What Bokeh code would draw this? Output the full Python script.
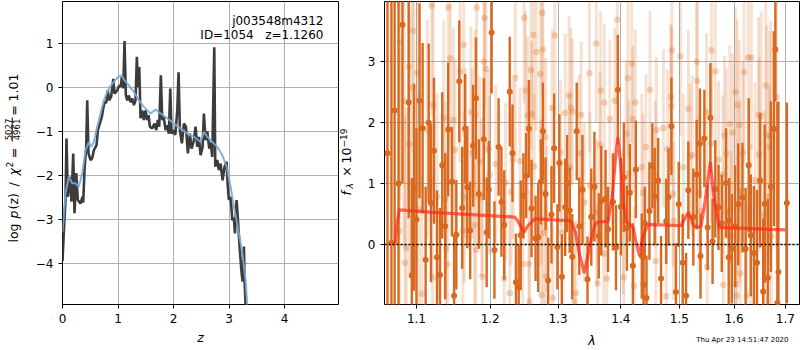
import math
from bokeh.plotting import figure
from bokeh.layouts import row, column
from bokeh.models import (Range1d, FixedTicker, Label, Span, ColumnDataSource,
                          CustomJSTickFormatter, PrintfTickFormatter, BoxAnnotation)
from bokeh.embed import file_html
from bokeh.resources import INLINE

FONT = "DejaVu Sans"

# ---------------- p(z) panel data ----------------
z_grid = [0.000, 0.027, 0.054, 0.072, 0.095, 0.132, 0.162, 0.193, 0.216, 0.247,
          0.276, 0.324, 0.360, 0.373, 0.396, 0.427, 0.445, 0.468, 0.505, 0.535,
          0.564, 0.613, 0.636, 0.672, 0.708, 0.733, 0.757, 0.787, 0.816, 0.841,
          0.877, 0.914, 0.937, 0.986, 1.022, 1.050, 1.068, 1.094, 1.117, 1.141,
          1.166, 1.195, 1.225, 1.256, 1.285, 1.315, 1.339, 1.357, 1.382, 1.405,
          1.436, 1.465, 1.495, 1.526, 1.550, 1.573, 1.616, 1.658, 1.688, 1.717,
          1.742, 1.771, 1.796, 1.825, 1.856, 1.886, 1.915, 1.941, 1.964, 1.995,
          2.031, 2.067, 2.090, 2.114, 2.150, 2.186, 2.222, 2.258, 2.294, 2.324,
          2.366, 2.396, 2.427, 2.456, 2.486, 2.523, 2.546, 2.577, 2.607, 2.643,
          2.667, 2.697, 2.733, 2.751, 2.787, 2.816, 2.847, 2.883, 2.919, 2.955,
          2.973, 2.996, 3.027, 3.058, 3.087, 3.105, 3.135, 3.159, 3.189, 3.220,
          3.243, 3.267, 3.279, 3.297, 3.320, 3.350, 3.500]
log_pz = [-3.95, -3.20, -2.56, -1.16, -2.49, -2.03, -2.60, -1.50, -2.86, -1.95,
          -2.56, -2.64, -2.49, -2.62, -1.88, -1.35, -0.29, -1.50, -1.65, -1.61,
          -1.43, -1.31, -0.97, -0.82, -0.67, -0.48, -0.33, -0.35, -0.06, -0.29,
          -0.20, 0.20, -0.14, -0.06, 0.05, 0.02, 0.24, -0.02, 1.06, -0.18,
          -0.29, -0.18, -0.33, -0.25, -0.40, -0.29, 0.70, 0.01, 0.47, -0.70,
          -0.52, -0.74, -0.52, -0.74, -0.63, -0.89, -0.93, -0.82, -0.97, -0.74,
          -0.89, 0.28, -0.74, -0.68, -0.97, -0.86, -1.05, -0.02, -1.05, -0.97,
          -1.08, -0.52, 0.35, -0.97, -1.27, -0.82, -0.89, -1.50, -1.05, -1.39,
          -1.20, -0.89, -1.35, -1.12, -1.54, -1.35, -0.59, -1.20, -1.00, -1.39,
          -1.25, -1.58, 0.92, -1.80, -1.65, -1.88, -1.73, -2.11, -1.80, -1.69,
          -2.18, -2.56, -2.49, -3.02, -2.97, -3.32, -2.56, -3.02, -3.62, -4.15,
          -4.42, -3.62, -4.40, -4.95, -6.00, -8.00, -12.0]

z_smooth = [0.000, 0.054, 0.114, 0.175, 0.234, 0.294, 0.355, 0.414, 0.474, 0.517,
            0.564, 0.625, 0.685, 0.744, 0.805, 0.852, 0.924, 0.996, 1.058, 1.117,
            1.195, 1.285, 1.375, 1.465, 1.586, 1.676, 1.766, 1.886, 2.005, 2.126,
            2.247, 2.366, 2.486, 2.546, 2.607, 2.697, 2.787, 2.877, 2.955, 3.027,
            3.087, 3.177, 3.238, 3.297, 3.328, 3.400]
log_pz_smooth = [-3.30, -2.41, -2.03, -2.18, -2.18, -2.26, -1.95, -1.43, -1.24, -1.35,
                 -1.24, -0.89, -0.59, -0.29, -0.10, 0.01, 0.13, 0.24, 0.28, 0.17,
                 0.05, -0.10, -0.29, -0.44, -0.59, -0.50, -0.59, -0.70, -0.82, -0.93,
                 -1.05, -1.12, -1.24, -1.01, -1.12, -1.24, -1.35, -1.54, -1.80, -2.26,
                 -2.71, -3.32, -3.77, -4.38, -4.97, -6.50]

# ---------------- spectrum panel data ----------------
# beam A (opaque)
wave_a = [1.063, 1.068, 1.072, 1.077, 1.082, 1.090, 1.094, 1.097, 1.100, 1.104,
          1.108, 1.112, 1.119, 1.123, 1.127, 1.131, 1.138, 1.142, 1.147, 1.150,
          1.153, 1.157, 1.165, 1.168, 1.172, 1.176, 1.184, 1.191, 1.198, 1.202,
          1.206, 1.220, 1.228, 1.237, 1.241, 1.244, 1.252, 1.260, 1.266, 1.270,
          1.274, 1.277, 1.281, 1.285, 1.290, 1.294, 1.299, 1.302, 1.306, 1.311,
          1.318, 1.329, 1.338, 1.346, 1.364, 1.368, 1.375, 1.379, 1.387, 1.392,
          1.395, 1.410, 1.425, 1.435, 1.438, 1.440, 1.443, 1.453, 1.457, 1.468,
          1.477, 1.481, 1.486, 1.494, 1.499, 1.506, 1.512, 1.516, 1.537, 1.538,
          1.545, 1.551, 1.556, 1.560, 1.565, 1.571, 1.585, 1.590, 1.591, 1.596,
          1.608, 1.616, 1.622, 1.628, 1.632, 1.638, 1.644, 1.650, 1.656, 1.659,
          1.665, 1.680, 1.684, 1.686, 1.703,
          1.116, 1.134, 1.161, 1.180, 1.195, 1.212, 1.216, 1.232, 1.248, 1.256,
          1.314, 1.322, 1.333, 1.352, 1.357, 1.400, 1.405, 1.415, 1.420, 1.448,
          1.463, 1.525, 1.531, 1.577, 1.602, 1.671, 1.677]
flux_a = [1.50, 0.03, 2.20, 1.00, 3.61, 2.33, -0.51, 0.94, 0.41, 2.36,
          1.91, -0.25, 0.68, 1.54, -0.21, -0.50, 0.30, 1.89, 1.03, -0.84,
          0.16, 2.68, 1.90, 0.94, 0.23, 1.62, 0.83, 1.73, 0.90, 3.48,
          -0.09, 0.32, 2.51, -0.62, -0.70, 0.15, 1.13, 0.59, 0.10, 0.12,
          1.03, 1.86, 0.83, -0.59, 0.49, 1.58, -0.04, 1.34, -0.53, 0.61,
          0.56, 1.86, 0.90, -0.57, 0.14, 0.72, 0.75, 0.25, 0.70, -0.05,
          2.54, 0.27, 1.23, -0.19, -0.66, 0.35, -0.88, 1.29, 0.79, -0.56,
          0.38, 0.78, 1.94, -0.78, 0.66, -0.30, -0.84, 0.89, 1.66, -0.19,
          1.74, 0.28, 2.08, 0.05, 0.91, 0.61, 1.01, -0.21, 0.39, -0.07,
          0.66, 0.77, -0.07, 1.30, 0.15, -0.14, -0.30, 1.05, -0.77, 0.67,
          -0.55, 3.20, -0.96, -0.45, 0.68,
          2.00, 1.30, 0.60, 2.40, 0.20, 1.60, 0.70, 1.50, 0.80, 1.90,
          1.00, -0.20, 0.30, 0.45, 0.95, 0.62, 1.10, 0.85, -0.35, 0.55,
          1.05, 0.45, 1.15, 0.35, 0.30, 0.95, 1.90]
err_a = [5.0, 5.0, 4.0, 4.0, 2.6, 1.9, 1.6, 1.7, 1.5, 1.6,
         1.4, 1.2, 1.3, 1.2, 1.1, 1.1, 1.2, 1.1, 0.9, 1.0,
         0.9, 1.0, 0.9, 1.0, 0.8, 1.0, 0.9, 1.0, 0.8, 1.0,
         0.8, 0.9, 0.9, 0.8, 0.7, 0.9, 0.7, 0.8, 0.7, 0.9,
         0.7, 0.8, 0.6, 0.7, 0.8, 0.9, 0.7, 0.8, 0.7, 0.8,
         0.7, 0.8, 0.9, 0.7, 0.7, 0.9, 0.8, 0.7, 0.8, 0.7,
         0.9, 0.7, 0.8, 0.7, 0.8, 0.6, 0.7, 0.7, 0.8, 0.7,
         0.7, 0.8, 0.8, 0.8, 0.7, 0.8, 0.7, 0.8, 0.9, 0.7,
         0.8, 0.7, 0.9, 0.7, 0.8, 0.7, 0.9, 0.8, 0.7, 0.9,
         1.0, 0.9, 1.0, 1.1, 1.0, 1.1, 1.2, 1.1, 1.2, 1.3,
         1.3, 0.85, 3.3, 2.8, 1.65,
         1.3, 1.2, 1.0, 1.0, 0.9, 0.8, 0.9, 0.8, 0.7, 0.8,
         0.8, 0.7, 0.8, 0.8, 0.9, 0.8, 0.9, 0.8, 0.7, 0.8,
         0.7, 0.8, 0.9, 0.8, 1.0, 1.4, 1.6]

# beam B (translucent)
wave_b = [1.078, 1.079, 1.084, 1.085, 1.087, 1.090, 1.091, 1.095, 1.096, 1.101,
          1.103, 1.107, 1.114, 1.120, 1.121, 1.122, 1.127, 1.136, 1.138, 1.139,
          1.141, 1.142, 1.145, 1.149, 1.151, 1.158, 1.162, 1.163, 1.164, 1.165,
          1.173, 1.175, 1.179, 1.178, 1.180, 1.181, 1.185, 1.188, 1.189, 1.191,
          1.192, 1.194, 1.198, 1.199, 1.208, 1.220, 1.222, 1.228, 1.230, 1.233,
          1.236, 1.243, 1.247, 1.249, 1.251, 1.254, 1.256, 1.257, 1.259, 1.260,
          1.263, 1.264, 1.267, 1.273, 1.274, 1.275, 1.276, 1.277, 1.278, 1.281,
          1.282, 1.283, 1.291, 1.292, 1.295, 1.304, 1.305, 1.311, 1.317, 1.318,
          1.320, 1.322, 1.325, 1.328, 1.333, 1.336, 1.341, 1.349, 1.350, 1.360,
          1.361, 1.362, 1.366, 1.367, 1.372, 1.373, 1.377, 1.382, 1.390, 1.394,
          1.404, 1.405, 1.409, 1.412, 1.413, 1.418, 1.420, 1.422, 1.424, 1.435,
          1.437, 1.442, 1.449, 1.458, 1.459, 1.460, 1.472, 1.477, 1.479, 1.485,
          1.486, 1.487, 1.489, 1.490, 1.502, 1.507, 1.516, 1.519, 1.523, 1.531,
          1.532, 1.535, 1.538, 1.549, 1.550, 1.557, 1.558, 1.565, 1.571, 1.579,
          1.580, 1.582, 1.586, 1.592, 1.595, 1.597, 1.603, 1.604, 1.605, 1.606,
          1.610, 1.611, 1.612, 1.617, 1.619, 1.624, 1.627, 1.633, 1.632, 1.640,
          1.647, 1.648, 1.652, 1.659, 1.661, 1.663, 1.668, 1.669, 1.671, 1.672,
          1.682]
flux_b = [0.22, 3.32, 2.36, -0.30, -0.06, 2.92, 1.65, 2.57, 3.51, 2.82,
          0.57, -0.81, 1.89, 3.92, -0.54, 2.29, 0.79, 2.08, 0.74, -0.07,
          -0.33, 3.89, 3.06, 2.05, 1.55, 2.84, 0.23, 3.28, 0.77, 1.50,
          2.17, 1.50, 2.13, 0.32, -0.09, 3.89, 1.36, 0.77, -0.53, 3.00,
          3.72, 2.88, 1.57, 1.14, 1.32, -0.56, 1.02, -0.80, 0.86, 1.39,
          2.74, 1.37, -0.32, 3.72, 2.53, 2.12, -0.32, -0.94, 2.86, 2.14,
          3.44, 1.28, 3.16, 2.80, 0.86, -0.83, 3.80, 3.20, 0.19, 1.76,
          -0.53, 0.42, 2.24, -0.88, 3.43, 1.51, 0.20, 2.16, 2.45, 1.27,
          2.25, 2.18, -0.93, -0.80, 1.50, 2.13, 0.69, 2.81, 0.97, 3.30,
          0.53, -0.64, 1.64, 2.53, -0.15, 2.33, -0.56, 2.06, 2.36, 3.69,
          0.38, -0.54, 1.82, 2.73, 1.16, 2.97, 2.06, -0.68, 2.33, 1.27,
          0.85, 1.60, 2.54, 1.16, -0.27, 1.88, 1.91, -0.85, 1.57, 2.42,
          2.27, 3.19, 0.83, 0.39, 3.09, 1.27, 2.23, 1.44, 1.47, 3.00,
          2.69, 0.84, 0.55, 2.17, -0.37, 1.66, 3.19, 2.84, 1.39, 1.15,
          -0.66, 1.79, 1.49, 1.98, 0.14, 1.84, 2.50, -0.65, -0.84, 2.29,
          1.96, 0.87, -0.47, 1.51, 2.83, -0.84, 3.07, 3.07, 0.15, 1.06,
          2.13, 1.48, 2.12, 0.50, 2.61, 1.80, 0.79, 1.60, 1.77, 0.13,
          2.42]
err_b = [3.0, 2.6, 2.4, 2.4, 2.3, 2.2, 2.2, 2.1, 2.0, 2.0,
         1.9, 1.9, 1.8, 1.8, 1.7, 1.7, 1.7, 1.6, 1.6, 1.6,
         1.5, 1.6, 1.5, 1.5, 1.5, 1.5, 1.4, 1.5, 1.4, 1.4,
         1.4, 1.4, 1.4, 1.3, 1.4, 1.5, 1.4, 1.3, 1.4, 1.4,
         1.5, 1.4, 1.3, 1.3, 1.3, 1.3, 1.3, 1.3, 1.2, 1.3,
         1.3, 1.2, 1.3, 1.4, 1.3, 1.3, 1.2, 1.3, 1.3, 1.2,
         1.4, 1.2, 1.3, 1.3, 1.2, 1.3, 1.4, 1.3, 1.2, 1.3,
         1.2, 1.2, 1.3, 1.2, 1.3, 1.2, 1.2, 1.3, 1.3, 1.2,
         1.3, 1.2, 1.3, 1.2, 1.3, 1.2, 1.3, 1.3, 1.2, 1.3,
         1.2, 1.3, 1.2, 1.3, 1.2, 1.3, 1.2, 1.3, 1.2, 1.4,
         1.2, 1.3, 1.2, 1.3, 1.2, 1.3, 1.2, 1.3, 1.2, 1.2,
         1.3, 1.2, 1.3, 1.2, 1.3, 1.2, 1.3, 1.2, 1.3, 1.2,
         1.3, 1.4, 1.2, 1.3, 1.3, 1.2, 1.3, 1.2, 1.3, 1.4,
         1.3, 1.3, 1.2, 1.3, 1.3, 1.3, 1.4, 1.3, 1.3, 1.3,
         1.4, 1.3, 1.4, 1.3, 1.4, 1.3, 1.4, 1.4, 1.5, 1.4,
         1.4, 1.5, 1.4, 1.5, 1.5, 1.5, 1.6, 1.5, 1.5, 1.6,
         1.6, 1.6, 1.7, 1.7, 1.7, 1.8, 1.8, 1.9, 1.9, 2.0,
         2.5]

# best-fit model
wave_model = [1.073, 1.0745, 1.078, 1.132, 1.235, 1.240, 1.249, 1.254, 1.2645, 1.320,
              1.327, 1.333, 1.341, 1.349, 1.357, 1.362, 1.379, 1.386, 1.391, 1.395,
              1.400, 1.404, 1.409, 1.4205, 1.425, 1.431, 1.436, 1.445, 1.503, 1.516,
              1.525, 1.530, 1.539, 1.546, 1.556, 1.562, 1.572, 1.700]
flux_model = [0.02, 0.30, 0.57, 0.52, 0.45, 0.38, 0.20, 0.30, 0.42, 0.39,
              0.20, -0.15, -0.47, -0.05, 0.30, 0.37, 0.38, 0.80, 1.40, 1.76,
              1.30, 0.70, 0.38, 0.28, 0.05, -0.18, 0.10, 0.33, 0.31, 0.53,
              0.32, 0.28, 0.30, 0.70, 1.35, 0.80, 0.28, 0.24]

# tick values and texts
pz_xticks = [0, 1, 2, 3, 4]
pz_yticks = [-4, -3, -2, -1, 0, 1]
sp_xticks = [1.1, 1.2, 1.3, 1.4, 1.5, 1.6, 1.7]
sp_yticks = [0, 1, 2, 3]
field_text = "j003548m4312"
id_text = "ID=1054\u00a0\u00a0\u00a0z=1.1260"
stamp_text = "Thu Apr 23 14:51:47 2020"

ORANGE = "#d8691e"
MINUS_FMT = CustomJSTickFormatter(code=r"return tick < 0 ? '\u2212' + String(-tick) : String(tick);")


def style(p):
    for ax in (p.xaxis[0], p.yaxis[0]):
        ax.axis_line_color = None
        ax.major_tick_out = 4
        ax.major_tick_in = 0
        ax.minor_tick_out = 0
        ax.minor_tick_in = 0
        ax.major_tick_line_color = "black"
        ax.major_label_text_font = FONT
        ax.major_label_text_font_size = "12px"
        ax.major_label_text_color = "black"
        ax.major_label_standoff = 5
        ax.axis_label_text_font = FONT
        ax.axis_label_text_font_size = "12.5px"
        ax.axis_label_text_color = "black"
        ax.axis_label_standoff = 4
    p.grid.grid_line_color = "#b0b0b0"
    p.grid.grid_line_width = 1
    p.outline_line_color = "black"
    p.outline_line_alpha = 1
    p.outline_line_width = 1
    p.background_fill_color = "white"
    p.border_fill_color = "white"


def holder(w, h, left=0, right=0, top=0, bottom=0):
    f = figure(width=w, height=h, x_range=Range1d(0, 1), y_range=Range1d(0, 1),
               output_backend="svg", toolbar_location=None,
               x_axis_location=None, y_axis_location=None,
               min_border_left=left, min_border_right=right,
               min_border_top=top, min_border_bottom=bottom)
    f.grid.visible = False
    f.outline_line_color = None
    f.background_fill_color = "white"
    f.border_fill_color = "white"
    return f


def lab(p, x, y, text, size="12.5px", style_="normal", align="left", angle=math.pi / 2):
    p.add_layout(Label(x=x, y=y, x_units="screen", y_units="screen", text=text,
                       angle=angle, text_align=align, text_baseline="middle",
                       text_font=FONT, text_font_size=size, text_font_style=style_,
                       text_color="black"))


# ---------------- left y label holder (frame spans same rows as the p(z) frame) ----------------
h1 = holder(24, 350, top=1, bottom=46)
lab(h1, 13, 62, "log")
lab(h1, 13, 86, "p", style_="italic")
lab(h1, 13, 95, "(z)")
lab(h1, 13, 120, "/", align="center")
lab(h1, 13, 129, "\u03c7", style_="italic")
lab(h1, 8.5, 137, "2", size="9px")
lab(h1, 13, 151.5, "=", align="center")
lab(h1, 8, 175, "5027", size="8.5px", align="center")
lab(h1, 15.5, 175, "4961", size="8.5px", align="center")
h1.add_layout(BoxAnnotation(left=11.2, right=12.2, bottom=163, top=187,
                            left_units="screen", right_units="screen",
                            bottom_units="screen", top_units="screen",
                            fill_color="black", fill_alpha=1, line_color=None))
lab(h1, 13, 194, "=", align="center")
lab(h1, 13, 203, "1.01")

# ---------------- left: p(z) ----------------
p1 = figure(width=315, height=350, x_range=Range1d(0, 4.97), y_range=Range1d(-4.94, 1.96),
            output_backend="svg", toolbar_location=None,
            min_border_left=38, min_border_right=1, min_border_top=1, min_border_bottom=46)
style(p1)
p1.xaxis.ticker = FixedTicker(ticks=pz_xticks)
p1.yaxis.ticker = FixedTicker(ticks=pz_yticks)
p1.yaxis.formatter = MINUS_FMT
p1.xaxis.axis_label = "z"
p1.xaxis.axis_label_text_font_style = "italic"

p1.line(z_grid, log_pz, line_color="#3c3c3c", line_width=2.6)
p1.line(z_smooth, log_pz_smooth, line_color="#7aaad4", line_width=2, line_alpha=0.9)

p1.add_layout(Label(x=261, y=284, x_units="screen", y_units="screen", text=field_text,
                    text_align="right", text_baseline="middle", text_font=FONT,
                    text_font_size="12px", text_color="black"))
p1.add_layout(Label(x=261, y=270, x_units="screen", y_units="screen", text=id_text,
                    text_align="right", text_baseline="middle", text_font=FONT,
                    text_font_size="12px", text_color="black"))

# ---------------- right y label holder ----------------
h2 = holder(18, 350, top=1, bottom=46)
lab(h2, 6.5, 109, "f", style_="italic")
lab(h2, 10, 116, "\u03bb", size="9px", style_="italic")
lab(h2, 6.5, 133, "\u00d7", align="center")
lab(h2, 6.5, 141, "10")
lab(h2, 3.5, 157, "\u221219", size="9px")

# ---------------- right: spectrum ----------------
p2 = figure(width=443, height=330, x_axis_type="log",
            x_range=Range1d(1.0593, 1.7285), y_range=Range1d(-0.985, 3.99),
            output_backend="svg", toolbar_location=None,
            min_border_left=27, min_border_right=1, min_border_top=1, min_border_bottom=26)
style(p2)
p2.xaxis.ticker = FixedTicker(ticks=sp_xticks)
p2.xgrid.ticker = FixedTicker(ticks=sp_xticks)
p2.xaxis.formatter = PrintfTickFormatter(format="%.1f")
p2.yaxis.ticker = FixedTicker(ticks=sp_yticks)

src_b = ColumnDataSource(dict(x=wave_b, y=flux_b,
                              lo=[f - e for f, e in zip(flux_b, err_b)],
                              hi=[f + e for f, e in zip(flux_b, err_b)]))
src_a = ColumnDataSource(dict(x=wave_a, y=flux_a,
                              lo=[f - e for f, e in zip(flux_a, err_a)],
                              hi=[f + e for f, e in zip(flux_a, err_a)]))

p2.segment(x0="x", y0="lo", x1="x", y1="hi", source=src_b,
           line_color=ORANGE, line_alpha=0.2, line_width=3)
p2.scatter(x="x", y="y", source=src_b, size=6.5, fill_color=ORANGE, fill_alpha=0.28,
           line_color=None)
p2.segment(x0="x", y0="lo", x1="x", y1="hi", source=src_a,
           line_color=ORANGE, line_alpha=1.0, line_width=2.4)
p2.scatter(x="x", y="y", source=src_a, size=6, fill_color=ORANGE, fill_alpha=1.0,
           line_color=None)

p2.line(wave_model, flux_model, line_color="#ff2a1a", line_alpha=0.7, line_width=3.2)
p2.add_layout(Span(location=0, dimension="width", line_color="black",
                   line_dash="2 2", line_width=1.6))

# bottom strip below the spectrum: axis label and timestamp (frame aligned with p2 frame)
h3 = holder(443, 20, left=27, right=1)
h3.add_layout(Label(x=207.5, y=10, x_units="screen", y_units="screen", text="\u03bb",
                    text_align="center", text_baseline="middle", text_font=FONT,
                    text_font_size="12.5px", text_font_style="italic", text_color="black"))
h3.add_layout(Label(x=404, y=11, x_units="screen", y_units="screen", text=stamp_text,
                    text_align="right", text_baseline="middle", text_font=FONT,
                    text_font_size="7px", text_color="black"))

layout = row(h1, p1, h2, column(p2, h3, spacing=0), spacing=0)
open("out.html", "w").write(file_html(layout, INLINE))
